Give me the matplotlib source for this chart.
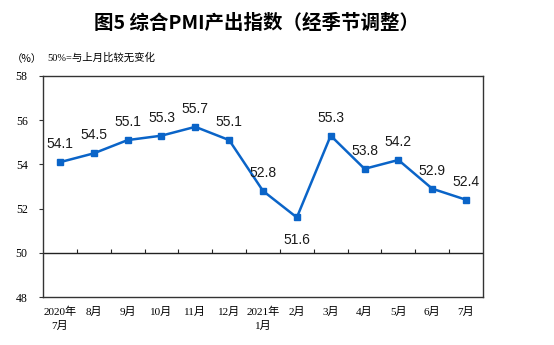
import numpy as np
import matplotlib
matplotlib.use("Agg")
import matplotlib.pyplot as plt

plt.rcParams['font.family'] = ['Liberation Serif', 'Noto Sans CJK SC', 'DejaVu Sans']

months = ["2020年\n7月", "8月", "9月", "10月", "11月", "12月", "2021年\n1月",
          "2月", "3月", "4月", "5月", "6月", "7月"]
values = [54.1, 54.5, 55.1, 55.3, 55.7, 55.1, 52.8, 51.6, 55.3, 53.8, 54.2, 52.9, 52.4]
label_below = [False, False, False, False, False, False, False, True,
               False, False, False, False, False]
yticks = [48, 50, 52, 54, 56, 58]

fig = plt.figure(figsize=(5.54, 3.45), dpi=100)
ax = fig.add_axes([43 / 554, 1 - 297 / 345, 440 / 554, 221 / 345])

x = np.arange(len(values))
ax.plot(x, values, color='#0A64C8', linewidth=1.8, marker='s', markersize=4.5,
        zorder=3)

for xi, v, below in zip(x, values, label_below):
    off = -16 if below else 13
    ax.annotate(f"{v:.1f}", (xi, v), xytext=(0, off), textcoords='offset points',
                ha='center', va='center', fontsize=10, family='Liberation Sans',
                color='#1a1a1a')

ax.set_xlim(-0.5, len(values) - 0.5)
ax.set_ylim(48, 58)
ax.set_yticks(yticks)
ax.set_yticklabels([str(t) for t in yticks], fontsize=8.5)
ax.tick_params(axis='y', length=3, width=0.8, pad=8, color='#333333')

# 50 line acting as category axis, with up-pointing ticks between months
ax.axhline(50, color='#222222', linewidth=1.0, zorder=2)
ax.vlines(x[:-1] + 0.5, 50, 50.15, color='#222222', linewidth=0.8)

ax.set_xticks(x)
ax.set_xticklabels(months, fontsize=8, linespacing=1.5)
ax.tick_params(axis='x', length=0, pad=7)

for s in ax.spines.values():
    s.set_color('#333333')
    s.set_linewidth(1.0)

fig.text(257 / 554, 1 - 23 / 345, "图5 综合PMI产出指数（经季节调整）",
         ha='center', va='center', fontsize=14, fontweight='bold',
         family=['Noto Sans CJK SC', 'DejaVu Sans'])
fig.text(27 / 554, 1 - 59 / 345, "（%）", ha='center', va='center', fontsize=7.5,
         family=['Noto Sans CJK SC', 'DejaVu Sans'])
fig.text(47 / 554, 1 - 58 / 345, "50%=与上月比较无变化", ha='left', va='center',
         fontsize=7.5)

fig.savefig("out.png", dpi=100)
